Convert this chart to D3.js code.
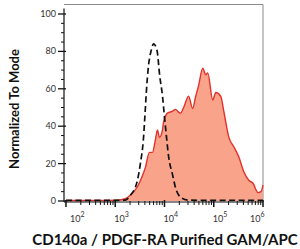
<!DOCTYPE html>
<meta charset="utf-8">
<body style="margin:0">
<script src="https://cdn.jsdelivr.net/npm/d3@7"></script>
<style>
body { font-family: Lato, "Open Sans", sans-serif; background: #fff; }
</style>
<svg id="chart" width="300" height="249"></svg>
<script>
// intensity (APC) vs normalized count
var stained = [
  [100, 0.3], [500, 0.3], [1000, 0.4], [1400, 0.8], [1800, 2], [2800, 7.5],
  [3500, 13], [4100, 18], [4950, 26], [5700, 26], [6560, 33], [7200, 38],
  [7900, 34], [9100, 38], [9550, 42], [11500, 47], [14600, 48], [16800, 49],
  [19400, 47.5], [21200, 47], [24500, 50], [30900, 56], [37300, 49.5],
  [43000, 56], [49500, 62], [59700, 71], [68900, 67.5], [75500, 68.5],
  [95500, 54], [110000, 58], [139000, 56], [160000, 48], [203000, 34],
  [256000, 29], [324000, 23.5], [410000, 15.5], [519000, 11], [627000, 9.5],
  [792000, 4.5], [912000, 5], [1000000, 8.5]
]
var control = [
  [100, 0.3], [1000, 0.3], [1600, 0.5], [2030, 3], [2820, 11], [3240, 20],
  [3730, 33], [4100, 50], [4300, 59], [4720, 72], [5440, 81], [5970, 84],
  [6560, 83], [7210, 79], [7920, 68], [9120, 56], [10000, 45], [11000, 34],
  [12100, 24], [14600, 14], [16800, 7], [21200, 2], [29500, 0.5],
  [60000, 0.3], [1000000, 0.3]
]
var yTicks = [0, 20, 40, 60, 80, 100]
var xTicks = [2, 3, 4, 5, 6]   // decades

var svg = d3.select('#chart')
var L = 64, R = 263, T = 4.5, B = 202

var x = d3.scaleLog().domain([Math.pow(10, 1.96), 1e6]).range([L, R])
var y = d3.scaleLinear().domain([0, 100]).range([201, 14])

// frame (top + right)
svg.append('path')
  .attr('d', 'M' + L + ',' + T + 'H' + R + 'V' + B)
  .attr('fill', 'none').attr('stroke', '#8a8a8a').attr('stroke-width', 1)

var area = d3.area().x(function(d){ return x(d[0]) })
  .y0(y(0)).y1(function(d){ return y(d[1]) }).curve(d3.curveMonotoneX)
var line = d3.line().x(function(d){ return x(d[0]) })
  .y(function(d){ return y(d[1]) }).curve(d3.curveMonotoneX)

svg.append('path').datum(stained).attr('d', area)
  .attr('fill', '#f8a38a').attr('stroke', 'none')
svg.append('path').datum(stained).attr('d', line)
  .attr('fill', 'none').attr('stroke', '#e2322c').attr('stroke-width', 1.4)
svg.append('path').datum(control).attr('d', line)
  .attr('fill', 'none').attr('stroke', '#111').attr('stroke-width', 1.7)
  .attr('stroke-dasharray', '6,3.5')

// y axis
var g = svg.append('g')
g.append('line').attr('x1', L).attr('x2', L).attr('y1', T + 4).attr('y2', B)
  .attr('stroke', '#111').attr('stroke-width', 1.2)
d3.range(0, 101, 5).forEach(function(v){
  var major = v % 20 == 0
  g.append('line').attr('x1', L - (major ? 6 : 3)).attr('x2', L + (major ? 2 : 0))
    .attr('y1', y(v)).attr('y2', y(v))
    .attr('stroke', '#111').attr('stroke-width', major ? 1.3 : 1)
})
g.selectAll('text.yt').data(yTicks).enter().append('text')
  .attr('x', L - 8).attr('y', function(d){ return y(d) + 3 })
  .attr('text-anchor', 'end').attr('font-size', 9).attr('fill', '#333')
  .text(function(d){ return d })

// x axis
var gx = svg.append('g')
gx.append('line').attr('x1', L).attr('x2', R).attr('y1', B).attr('y2', B)
  .attr('stroke', '#111').attr('stroke-width', 1.2)
for (var e = 2; e <= 6; e++) {
  gx.append('line').attr('x1', x(Math.pow(10, e))).attr('x2', x(Math.pow(10, e)))
    .attr('y1', B - 2).attr('y2', B + 5).attr('stroke', '#111').attr('stroke-width', 1.5)
  if (e < 6) for (var m = 2; m <= 9; m++) {
    var xv = x(m * Math.pow(10, e))
    gx.append('line').attr('x1', xv).attr('x2', xv)
      .attr('y1', B - 1).attr('y2', B + 3).attr('stroke', '#111').attr('stroke-width', 1)
  }
}
gx.selectAll('text.xt').data(xTicks).enter().append('text')
  .attr('x', function(d, i){
    var px = x(Math.pow(10, d)) - 1
    if (i == 0) px = Math.max(px, 70)
    return Math.min(px, R - 13)
  })
  .attr('y', 222).attr('font-size', 9).attr('fill', '#333')
  .each(function(d){
    var t = d3.select(this)
    t.append('tspan').text('10')
    t.append('tspan').attr('dy', -5).attr('font-size', 7).text(d)
  })

// titles
svg.append('text').attr('transform', 'translate(19,109) rotate(-90)')
  .attr('text-anchor', 'middle').attr('font-size', 13).attr('font-weight', 'bold')
  .attr('fill', '#111').text('Normalized To Mode')
svg.append('text').attr('x', 165).attr('y', 245)
  .attr('text-anchor', 'middle').attr('font-size', 15).attr('font-weight', 'bold')
  .attr('fill', '#111').text('CD140a / PDGF-RA Purified GAM/APC')
</script>
</body>
